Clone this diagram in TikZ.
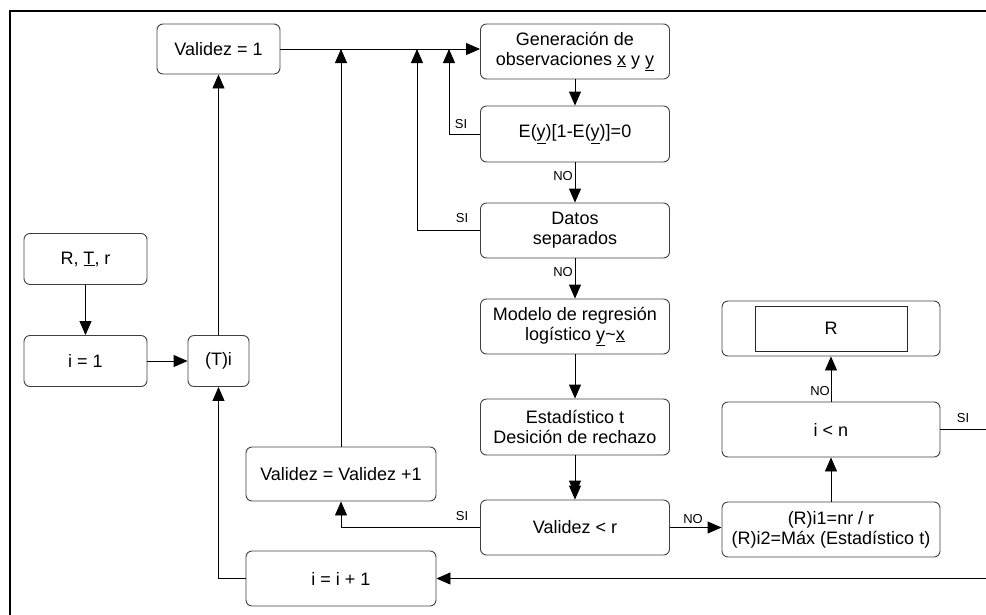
\documentclass[tikz,border=0pt]{standalone}
\usepackage{fontspec}
\setmainfont{Liberation Sans}
\usetikzlibrary{arrows.meta,calc}
\begin{document}
\begin{tikzpicture}[x=1pt,y=-1pt,
  box/.style={draw=black!75,line width=0.9pt,rounded corners=6pt,align=center,inner sep=0pt,font=\fontsize{18}{20}\selectfont},
  conn/.style={draw=black,line width=0.9pt,-{Triangle[length=14pt,width=12pt]}},
  wire/.style={draw=black,line width=0.9pt},
  lab/.style={font=\fontsize{13}{14}\selectfont,inner sep=0pt}]
\useasboundingbox (0,0) rectangle (986,614);
\clip (0,0) rectangle (986,614);
% frame
\draw[line width=2.5pt] (10,620) -- (10,11) -- (995,11);
% nodes
\node[box,minimum width=123pt,minimum height=50pt] (val1) at (218.5,49) {Validez = 1};
\node[box,minimum width=189pt,minimum height=55pt] (gen) at (575,51.5) {Generación de\\observaciones \underline{x} y \underline{y}};
\node[box,minimum width=189pt,minimum height=56pt] (ey) at (575,134) {E(\underline{y})[1-E(\underline{y})]=0};
\node[box,minimum width=189pt,minimum height=55pt] (datos) at (575,230.5) {Datos\\separados};
\node[box,minimum width=189pt,minimum height=55pt] (modelo) at (575,326.5) {Modelo de regresión\\logístico \underline{y}\textasciitilde\underline{x}};
\node[box,minimum width=189pt,minimum height=56pt] (est) at (575,427) {Estadístico t\\Desición de rechazo};
\node[box,minimum width=189pt,minimum height=55pt] (vr) at (575,527.5) {Validez < r};
\node[box,minimum width=218pt,minimum height=55pt] (rbox) at (831,328.5) {};
\node[draw=black!85,line width=0.9pt,minimum width=152pt,minimum height=45pt,inner sep=0pt,font=\fontsize{18}{20}\selectfont] (rin) at (831,328.5) {R};
\node[box,minimum width=218pt,minimum height=55pt] (ilt) at (831,429.5) {i < n};
\node[box,minimum width=218pt,minimum height=55pt] (rmax) at (831,529.5) {(R)i1=nr / r\\(R)i2=Máx (Estadístico t)};
\node[box,minimum width=123pt,minimum height=51pt] (rtr) at (85.5,259) {R, \underline{T}, r};
\node[box,minimum width=123pt,minimum height=51pt] (i1) at (85.5,361) {i = 1};
\node[box,minimum width=61pt,minimum height=51pt] (ti) at (218.5,361) {(T)i};
\node[box,minimum width=190pt,minimum height=54pt] (vplus) at (341,474) {Validez = Validez +1};
\node[box,minimum width=190pt,minimum height=55pt] (iinc) at (341,578.5) {i = i + 1};
% junctions on the top line
\coordinate (j1) at (449,49);
\coordinate (j2) at (417,49);
\coordinate (j3) at (341,49);
% connectors
\draw[conn] (val1.east) -- (val1.east -| gen.west);
\draw[conn] (gen.south) -- (ey.north);
\draw[conn] (ey.west) -| (j1);
\draw[conn] (ey.south) -- (datos.north);
\draw[conn] (datos.west) -| (j2);
\draw[conn] (datos.south) -- (modelo.north);
\draw[conn] (modelo.south) -- (est.north);
\draw[conn] (est.south) -- (vr.north);
\draw[conn] (est.south) -- ([yshift=5pt]vr.north);
\draw[conn] (vr.west) -| (vplus.south);
\draw[conn] (vplus.north) -- (j3);
\draw[conn] (vr.east) -- (vr.east -| rmax.west);
\draw[conn] (rmax.north) -- (ilt.south);
\draw[conn] (ilt.north) -- (rbox.south);
\draw[conn] (ilt.east) -- ++(80,0) |- (iinc.east);
\draw[conn] (iinc.west) -| (ti.south);
\draw[conn] (ti.north) -- (val1.south);
\draw[conn] (rtr.south) -- (i1.north);
\draw[conn] (i1.east) -- (ti.west);
% labels
\node[lab] (l1) at (461,124) {SI};
\node[lab] (l2) at (462,218) {SI};
\node[lab] (l3) at (462,516) {SI};
\node[lab,anchor=east] (l4) at (573,176) {NO};
\node[lab,anchor=east] (l5) at (573,272) {NO};
\node[lab] (l6) at (693,519) {NO};
\node[lab,anchor=east] (l7) at (830,391) {NO};
\node[lab] (l8) at (963,418) {SI};
\end{tikzpicture}
\end{document}
